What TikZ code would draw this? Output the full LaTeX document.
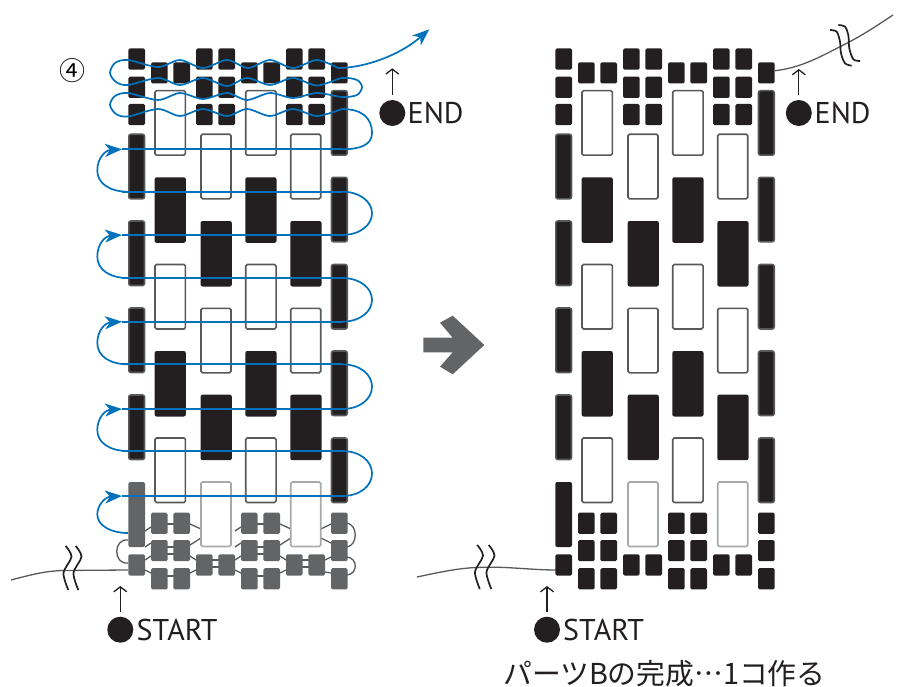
\documentclass[tikz,border=0pt]{standalone}
\usepackage{fontspec}
\setmainfont{PT Sans}
\newfontfamily\jpfont[Script=CJK,Language=Japanese]{Noto Sans CJK JP}
\usetikzlibrary{arrows.meta}
\definecolor{beadblack}{HTML}{231F20}
\definecolor{beadgray}{HTML}{636466}
\definecolor{edgegray}{HTML}{58595B}
\definecolor{edgelight}{HTML}{A7A9AC}
\definecolor{threadblue}{HTML}{0071BC}
\tikzset{
    bead/.style={rounded corners=1.5pt},
    tallwhite/.style={fill=white,draw=edgegray,line width=1.6pt,rounded corners=1.5pt},
    tallpale/.style={fill=white,draw=edgelight,line width=1.6pt,rounded corners=1.5pt},
    tallblack/.style={fill=beadblack,rounded corners=2pt},
    sidebar/.style={fill=beadblack,draw=edgegray,line width=1.6pt,rounded corners=2pt},
    graythread/.style={draw=edgegray,line width=1.3pt},
    bluethread/.style={draw=threadblue,line width=1.7pt},
    bluetip/.style={-{Stealth[length=17pt,width=13pt,inset=5pt]}},
    squiggle/.style={draw=beadblack,line width=1.7pt},
    dotmark/.style={circle,fill=beadblack,minimum size=26pt,inner sep=0pt},
    tagtext/.style={anchor=base west,inner sep=0pt,font=\fontsize{30}{30}\selectfont,text=beadblack},
    tickarrow/.style={draw=beadblack,line width=1.3pt,shorten <=5pt,-{Straight Barb[length=5pt,width=13pt]}}
}
\begin{document}
\begin{tikzpicture}[x=1pt,y=-1pt]
    \useasboundingbox (0,0) rectangle (909,687);
    % threads under the beads, left part
    \foreach \dx in {0,90}{
        \draw[graythread] (167+\dx,524) -- ++(7,0) (167+\dx,547) -- ++(7,0) (167+\dx,554) -- ++(7,0) (167+\dx,576) -- ++(7,0);
        \draw[graythread] (145+\dx,531) -- (151+\dx,527) (145+\dx,547) -- (151+\dx,543) (145+\dx,560) -- (151+\dx,556) (145+\dx,570) -- (151+\dx,573);
        \draw[graythread] (190+\dx,524) -- (201+\dx,529) (190+\dx,545) -- (201+\dx,538) (190+\dx,556) -- (196+\dx,560) (190+\dx,573) -- (196+\dx,570);
        \draw[graythread] (212+\dx,560) -- ++(7,0) (212+\dx,567) -- ++(7,0);
    }
    \draw[graythread] (325,560) -- (331,557) (325,572) -- (331,573) (321,529) -- (331,524) (321,538) -- (331,543);
    \draw[graythread] (128,540) .. controls (113,538) and (113,565) .. (128,563);
    \draw[graythread] (347,523) .. controls (358,525) and (358,545) .. (347,547);
    \draw[graythread] (347,557) .. controls (358,558) and (358,574) .. (347,575);
    % threads under the beads, right part
    \draw[graythread] (775,70.7) .. controls (800,68) and (820,57) .. (840,46.7) .. controls (860,37) and (878,25) .. (893,15);
    \draw[graythread] (417,577) .. controls (440,572) and (460,568) .. (477,567.5) .. controls (505,566) and (530,570) .. (556,570);
    \draw[graythread] (11,580) .. controls (30,575) and (45,571) .. (63,570.5) -- (128,570);
    % beads, same work twice
    \foreach \panel/\lowcol in {0/beadgray,427/beadblack}{
    \begin{scope}[xshift=\panel pt]
        \foreach \xa in {128.3,196,218.3,286,308.3}
            \foreach \ya in {48.5,76.7,104}
                \fill[beadblack,bead] (\xa,\ya) rectangle ++(16.7,21.2);
        \foreach \xa in {128.3,196,218.3,286,308.3}
            \fill[\lowcol,bead] (\xa,554.3) rectangle ++(16.7,21.2);
        \foreach \xb in {151,173.3,241,263.3,331}{
            \fill[beadblack,bead] (\xb,62.3) rectangle ++(16.7,21.2);
            \foreach \yb in {512.7,540,568.2}
                \fill[\lowcol,bead] (\xb,\yb) rectangle ++(16.7,21.2);
        }
        \foreach \xt in {155,245.7}{
            \foreach \yt in {90.7,264.5,438}
                \draw[tallwhite] (\xt,\yt) rectangle ++(30.4,64.5);
            \foreach \yt in {177.3,351}
                \fill[tallblack] (\xt-0.4,\yt) rectangle ++(31.2,65.5);
        }
        \foreach \xt in {201,290.7}{
            \foreach \yt in {134.3,308.3}
                \draw[tallwhite] (\xt,\yt) rectangle ++(30,64.5);
            \fill[tallblack] (\xt-0.4,221) rectangle ++(31.2,65.5);
            \fill[tallblack] (\xt-0.4,394.7) rectangle ++(31.2,65.5);
            \draw[tallpale] (\xt,482) rectangle ++(30,64.5);
        }
        \foreach \ys in {134.3,221,308,395}
            \draw[sidebar] (128.8,\ys) rectangle ++(15.7,64.5);
        \foreach \ys in {90.7,177.3,264.5,351,438}
            \draw[sidebar] (331.5,\ys) rectangle ++(15.7,64.5);
        \fill[\lowcol,rounded corners=2pt] (128.3,482) rectangle ++(16.7,65);
    \end{scope}
    }
    % blue thread
    \foreach \ya in {149.3,191.7,235,278,321.7,364.3,409,451,496}
        \draw[bluethread] (122,\ya) -- (342,\ya);
    \foreach \ylow/\yup in {533/496,451/409,364.3/321.7,278/235,191.7/149.3}{
        \pgfmathsetmacro{\ymid}{(\ylow+\yup)/2}
        \draw[bluethread,bluetip] (128,\ylow) .. controls (110,\ylow) and (97.3,\ylow-8) .. (97.3,\ymid) .. controls (97.3,\yup+9) and (105,\yup+1) .. (122,\yup);
    }
    \foreach \ylow/\yup in {496/451,409/364.3,321.7/278,235/191.7}{
        \pgfmathsetmacro{\ymid}{(\ylow+\yup)/2}
        \draw[bluethread] (342,\ylow) .. controls (360,\ylow) and (372,\ylow-10) .. (372,\ymid) .. controls (372,\yup+10) and (360,\yup) .. (342,\yup);
    }
    \draw[bluethread] (342,149.3) .. controls (360,149.3) and (372,145) .. (372,133) .. controls (372,118) and (362,109) .. (342,109);
    \draw[bluethread] plot[smooth] coordinates {(342,109) (317,116) (293,109) (270,116) (247,109) (227,116) (203,109) (180,116) (158,109) (128,116.5) (116,114) (110,105) (115,96) (128,93) (158,100) (180,93) (203,99) (227,93) (247,100) (270,93) (293,98) (317,93) (342,97) (357,95) (362,87) (357,80) (342,78) (317,85.5) (293,78) (270,85) (247,78) (227,86) (203,78) (180,85) (158,78) (128,85) (116,82) (110,73) (115,63) (128,60) (158,67) (180,60) (203,68) (227,60) (248,68) (270,60) (293,68) (317,60) (338,68)};
    \draw[bluethread,bluetip] (338,68) .. controls (365,68) and (400,55) .. (429.3,29.3);
    % squiggle marks
    \foreach \sx/\sy in {0/0,10/0,411.5/-1,423/-1}
        \draw[squiggle] plot[smooth] coordinates {(65.7+\sx,546+\sy) (71.5+\sx,556.7+\sy) (63.5+\sx,573+\sy) (68.3+\sx,590+\sy)};
    \draw[squiggle] plot[smooth] coordinates {(830,30) (836.7,31.7) (840,41.7) (841,53.3) (845,63.3) (851.7,65.7)};
    \draw[squiggle] plot[smooth] coordinates {(838.3,25) (845,26.7) (848.3,35) (849.3,48.3) (853.3,59.3) (860,61)};
    % big arrow
    \fill[beadgray] (423.3,337.7) -- (452.7,337.7) -- (440,322.7) -- (452.7,315.7) -- (484.3,345) -- (452.7,374.3) -- (440,366.7) -- (452.7,352.3) -- (423.3,352.3) -- cycle;
    % labels
    \node[inner sep=0pt] (stepnum) at (72,71) {\jpfont\fontsize{26}{26}\selectfont ④};
    \node[dotmark] (enddotl) at (392.3,113) {};
    \node[tagtext] (endtxtl) at (407.5,124) {END};
    \coordinate (endtipl) at (392.3,68.3);
    \draw[tickarrow] (enddotl) -- (endtipl);
    \node[dotmark] (enddotr) at (798.8,113) {};
    \node[tagtext] (endtxtr) at (814.5,124) {END};
    \coordinate (endtipr) at (798.8,69);
    \draw[tickarrow] (enddotr) -- (endtipr);
    \node[dotmark] (startdotl) at (120.3,629.7) {};
    \node[tagtext] (starttxtl) at (136.5,640.7) {START};
    \coordinate (starttipl) at (120.3,586);
    \draw[tickarrow] (startdotl) -- (starttipl);
    \node[dotmark] (startdotr) at (547,629.7) {};
    \node[tagtext] (starttxtr) at (563,640.7) {START};
    \coordinate (starttipr) at (547,586);
    \draw[tickarrow] (startdotr) -- (starttipr);
    \node[inner sep=0pt,anchor=base west,text=beadblack] (caption) at (503,684) {\jpfont\fontsize{28.8}{28.8}\selectfont パーツBの完成…1コ作る};
\end{tikzpicture}
\end{document}
